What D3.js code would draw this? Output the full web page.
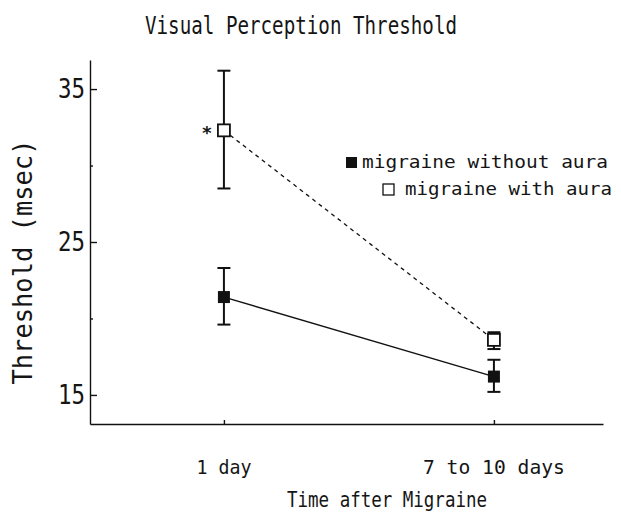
<!DOCTYPE html>
<html lang="en">
<head>
  <meta charset='utf-8'>
  <title>Visual Perception Threshold</title>
  <style>
    body { margin: 0; background: #fff; }
    svg { display: block; }
    text { font-family: "DejaVu Sans Mono", "Liberation Mono", monospace; fill: #151515; }
    .axis path, .axis line { stroke: #111; stroke-width: 1.4; }
  </style>
</head>
<body>
  <div id="chart"></div>

<script src="https://cdn.jsdelivr.net/npm/d3@7"></script>
<script>

  ////////////////////////////////////////////////// DATA

  var categories     = ["1 day", "7 to 10 days"];
  var withoutAura    = [21.4, 16.2];
  var withoutAuraLo  = [19.6, 15.2];
  var withoutAuraHi  = [23.3, 17.3];
  var withAura       = [32.3, 18.6];
  var withAuraLo     = [28.5, 18.0];
  var withAuraHi     = [36.2, 19.1];
  var yMajorTicks    = [15, 25, 35];
  var yMinorTicks    = [20, 30];

  ////////////////////////////////////////////////// SETUP

  var width = 621, height = 515;

  var svg = d3.select("#chart").append("svg")
              .attr("width", width)
              .attr("height", height);

  // index -> px (axis runs a bit past the two categories)
  var x = d3.scaleLinear().domain([-0.496, 1.404]).range([90, 603]);
  var y = d3.scaleLinear().domain([13.1, 36.9]).range([424, 60]);

  ////////////////////////////////////////////////// AXES

  // y axis, ticks pointing into the plot
  svg.append("g")
     .attr("class", "axis")
     .attr("transform", "translate(90,0)")
     .call(d3.axisLeft(y).tickValues(yMajorTicks).tickSizeInner(-7).tickSizeOuter(0).tickFormat(""));

  svg.append("g")
     .attr("class", "axis")
     .attr("transform", "translate(90,0)")
     .call(d3.axisLeft(y).tickValues(yMinorTicks).tickSizeInner(-3).tickSizeOuter(0).tickFormat(""))
     .select(".domain").remove();

  svg.selectAll(".ylab")
     .data(yMajorTicks)
     .enter().append("text")
     .attr("x", 85)
     .attr("y", function(d){ return y(d) + 9; })
     .attr("text-anchor", "end")
     .attr("font-size", 26)
     .attr("textLength", 27)
     .attr("lengthAdjust", "spacingAndGlyphs")
     .text(function(d){ return d; });

  // x axis
  svg.append("g")
     .attr("class", "axis")
     .attr("transform", "translate(0,424)")
     .call(d3.axisBottom(x).tickValues([0, 1]).tickSizeInner(-4).tickSizeOuter(0).tickFormat(""));

  var xLabW = [55, 142];
  svg.selectAll(".xlab")
     .data(categories)
     .enter().append("text")
     .attr("x", function(d,i){ return x(i); })
     .attr("y", 474)
     .attr("text-anchor", "middle")
     .attr("font-size", 19)
     .attr("textLength", function(d,i){ return xLabW[i]; })
     .attr("lengthAdjust", "spacingAndGlyphs")
     .text(function(d){ return d; });

  // titles
  svg.append("text")
     .attr("x", 301).attr("y", 34)
     .attr("text-anchor", "middle")
     .attr("font-size", 25)
     .attr("textLength", 312)
     .attr("lengthAdjust", "spacingAndGlyphs")
     .text("Visual Perception Threshold");

  svg.append("text")
     .attr("x", 387).attr("y", 507)
     .attr("text-anchor", "middle")
     .attr("font-size", 21)
     .attr("textLength", 200)
     .attr("lengthAdjust", "spacingAndGlyphs")
     .text("Time after Migraine");

  svg.append("text")
     .attr("transform", "translate(32,262) rotate(-90)")
     .attr("text-anchor", "middle")
     .attr("font-size", 26)
     .attr("textLength", 245)
     .attr("lengthAdjust", "spacingAndGlyphs")
     .text("Threshold (msec)");

  ////////////////////////////////////////////////// SERIES

  var line = d3.line()
               .x(function(d,i){ return x(i); })
               .y(function(d){ return y(d); });

  svg.append("path")
     .datum(withoutAura)
     .attr("d", line)
     .attr("fill", "none")
     .attr("stroke", "#111")
     .attr("stroke-width", 1.4);

  svg.append("path")
     .datum(withAura)
     .attr("d", line)
     .attr("fill", "none")
     .attr("stroke", "#111")
     .attr("stroke-width", 1.3)
     .attr("stroke-dasharray", "4,4");

  function errorBars(lo, hi){
    var g = svg.append("g");
    categories.forEach(function(c, i){
      g.append("line")
       .attr("x1", x(i)).attr("x2", x(i))
       .attr("y1", y(lo[i])).attr("y2", y(hi[i]))
       .attr("stroke", "#111").attr("stroke-width", 2);
      [lo[i], hi[i]].forEach(function(v){
        g.append("line")
         .attr("x1", x(i) - 6.5).attr("x2", x(i) + 6.5)
         .attr("y1", y(v)).attr("y2", y(v))
         .attr("stroke", "#111").attr("stroke-width", 2);
      });
    });
  }

  errorBars(withoutAuraLo, withoutAuraHi);
  errorBars(withAuraLo, withAuraHi);

  var sq = 12;

  svg.selectAll(".sqFilled")
     .data(withoutAura)
     .enter().append("rect")
     .attr("x", function(d,i){ return x(i) - sq/2; })
     .attr("y", function(d){ return y(d) - sq/2; })
     .attr("width", sq).attr("height", sq)
     .attr("fill", "#111");

  svg.selectAll(".sqOpen")
     .data(withAura)
     .enter().append("rect")
     .attr("x", function(d,i){ return x(i) - sq/2; })
     .attr("y", function(d){ return y(d) - sq/2; })
     .attr("width", sq).attr("height", sq)
     .attr("fill", "#fff")
     .attr("stroke", "#111")
     .attr("stroke-width", 1.8);

  // significance mark
  svg.append("text")
     .attr("x", x(0) - 17).attr("y", y(withAura[0]) + 9)
     .attr("text-anchor", "middle")
     .attr("font-size", 18)
     .attr("font-weight", "bold")
     .text("*");

  ////////////////////////////////////////////////// LEGEND

  svg.append("rect")
     .attr("x", 346).attr("y", 157).attr("width", 11).attr("height", 11)
     .attr("fill", "#111");
  svg.append("text")
     .attr("x", 362).attr("y", 168)
     .attr("font-size", 17)
     .attr("textLength", 246)
     .attr("lengthAdjust", "spacingAndGlyphs")
     .text("migraine without aura");

  svg.append("rect")
     .attr("x", 383).attr("y", 184).attr("width", 11).attr("height", 11)
     .attr("fill", "#fff").attr("stroke", "#111").attr("stroke-width", 1.3);
  svg.append("text")
     .attr("x", 405).attr("y", 195)
     .attr("font-size", 17)
     .attr("textLength", 207)
     .attr("lengthAdjust", "spacingAndGlyphs")
     .text("migraine with aura");

</script>
</body>
</html>
